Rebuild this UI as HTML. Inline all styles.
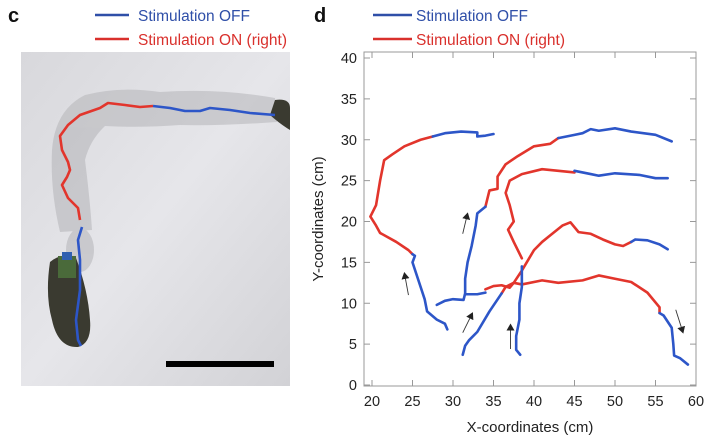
<!DOCTYPE html>
<html><head><meta charset="utf-8">
<style>
html,body{margin:0;padding:0;background:#fff;}
svg{display:block;font-family:"Liberation Sans",Arial,sans-serif;}
</style></head>
<body>
<svg width="728" height="436" viewBox="0 0 728 436" xmlns="http://www.w3.org/2000/svg">
  <defs>
    <linearGradient id="bg" x1="0" y1="0" x2="1" y2="1">
      <stop offset="0" stop-color="#d8d8dc"/>
      <stop offset="0.5" stop-color="#e6e6ea"/>
      <stop offset="1" stop-color="#d2d2d6"/>
    </linearGradient>
    <marker id="ah" markerWidth="8" markerHeight="8" refX="6" refY="4" orient="auto" markerUnits="userSpaceOnUse">
      <path d="M0,0 L7,4 L0,8 Z" fill="#222"/>
    </marker>
  </defs>

  <g>
    <text x="8" y="22" font-size="20" font-weight="bold" fill="#111">c</text>
    <g>
      <line x1="95" y1="15" x2="129" y2="15" stroke="#2f4fa8" stroke-width="2.5"/>
      <text x="138" y="21" font-size="15.5" fill="#2f4fa8">Stimulation OFF</text>
      <line x1="95" y1="39" x2="129" y2="39" stroke="#d9302c" stroke-width="2.5"/>
      <text x="138" y="45" font-size="15.5" fill="#d9302c">Stimulation ON (right)</text>
    </g>
    <rect x="21" y="52" width="269" height="334" fill="url(#bg)"/>
    <g fill="#b4b4b8" opacity="0.55">
      <path d="M85,95 Q120,86 160,92 Q220,88 275,98 L277,122 Q220,126 180,125 Q140,128 105,126 Q90,140 85,160 Q90,200 92,230 L60,232 Q50,190 52,150 Q55,110 85,95 Z"/>
      <ellipse cx="80" cy="250" rx="14" ry="22"/>
    </g>
    <g>
      <path d="M50,262 Q62,252 76,258 Q88,290 90,320 Q92,343 78,347 Q58,348 52,320 Q45,295 50,262 Z" fill="#3a3a30"/>
      <rect x="58" y="256" width="18" height="22" fill="#4a6a3a"/>
      <rect x="62" y="252" width="10" height="8" fill="#2f5fb0"/>
      <path d="M275,100 Q290,98 290,108 L290,130 Q280,124 270,115 Z" fill="#3a3a30"/>
    </g>
    <polyline fill="none" stroke="#e2352c" stroke-width="2.6" stroke-linejoin="round"
      points="153,106 140,107 125,105 108,103 100,108 80,115 68,125 60,136 62,150 68,162 70,170 67,177 62,185 68,198 78,208 80,220"/>
    <polyline fill="none" stroke="#2d56c8" stroke-width="2.6" stroke-linejoin="round"
      points="153,106 170,108 185,111 200,111 210,108 230,110 250,113 275,115"/>
    <polyline fill="none" stroke="#2d56c8" stroke-width="2.6" stroke-linejoin="round"
      points="82,227 78,240 80,260 80,290 76,320 78,340 81,346"/>
    <rect x="166" y="361" width="108" height="6" fill="#000"/>
  </g>

  <g>
    <text x="314" y="22" font-size="20" font-weight="bold" fill="#111">d</text>
    <g>
      <line x1="373" y1="15" x2="412" y2="15" stroke="#2f4fa8" stroke-width="2.5"/>
      <text x="416" y="21" font-size="15.5" fill="#2f4fa8">Stimulation OFF</text>
      <line x1="373" y1="39" x2="412" y2="39" stroke="#d9302c" stroke-width="2.5"/>
      <text x="416" y="45" font-size="15.5" fill="#d9302c">Stimulation ON (right)</text>
    </g>
    <rect x="364" y="52" width="332" height="334" fill="none" stroke="#999" stroke-width="1"/>
    <g id="axes"></g>
    <g id="marks"></g>
    <text x="530" y="432" font-size="15" text-anchor="middle" fill="#222">X-coordinates (cm)</text>
    <text transform="translate(323,219) rotate(-90)" font-size="15" text-anchor="middle" fill="#222">Y-coordinates (cm)</text>
  </g>
</svg>
<script>
const xTicks = [20,25,30,35,40,45,50,55,60];
const yTicks = [0,5,10,15,20,25,30,35,40];
const offSegments = [
  [[27.5,30.4],[29,30.8],[31,31],[33,30.9],[33,30.4],[34,30.5],[35,30.7]],
  [[25,16],[25.3,15.8],[25,15],[25.5,13.5],[26,12],[26.5,10.5],[26.8,9],[28,8],[29,7.5],[29.3,6.8]],
  [[28,9.8],[29,10.3],[30,10.5],[31.3,10.4],[31.5,11.2],[31.5,13],[31.8,15],[32.3,17],[32.8,19.5],[33,21],[34,21.8]],
  [[31.5,11.1],[33,11.1],[34,11.3]],
  [[43,30.2],[45,30.6],[46,30.8],[47,31.3],[48,31.1],[50,31.4],[52,31],[55,30.6],[57,29.8]],
  [[55.5,8.8],[56,8.5],[57,7],[57.2,5],[57.3,3.6],[58,3.3],[59,2.5]],
  [[31.2,3.7],[31.5,4.8],[32,5.5],[33,6.5],[34.5,9],[36,11.2]],
  [[52,17.5],[52.5,17.8],[54,17.7],[55.5,17.2],[56.5,16.6]],
  [[38.3,3.7],[37.8,4.3],[37.8,6],[38.2,8],[38.2,10],[38.5,12],[38.5,14.5]],
  [[45,26.2],[47,25.8],[48,25.6],[50,25.9],[53,25.7],[55,25.3],[56.5,25.3]]
];
const onSegments = [
  [[27.5,30.4],[26,30],[24,29.2],[22.5,28.2],[21.5,27.5],[21,25],[20.8,23.8],[20.5,22],[19.8,20.6],[20.5,19.5],[21,18.6],[23,17.5],[24.5,16.5],[25,16]],
  [[34,21.8],[34.5,23.8],[35.5,24],[35.5,25.5],[36.5,27],[38,28],[40,29.2],[42,29.5],[43,30.2]],
  [[34,11.7],[35,12.1],[36,12.2],[37,11.9],[37.5,12.5],[38.5,12.3],[41,12.8],[43,12.5],[46,12.8],[48,13.4],[50,13],[52,12.6],[54,11.3],[55.5,9.5],[55.5,8.8]],
  [[36,11.2],[36.5,12],[37.5,12.5],[38.5,14],[40,16.5],[41,17.5],[42,18.3],[43.5,19.5],[44.5,19.9],[45.5,18.7],[47,18.5],[48.5,17.8],[50,17.2],[51,17],[52,17.5]],
  [[38.5,15.5],[37.5,17.5],[36.8,19],[37.5,20],[37,22],[36.5,23.5],[37,25],[38.5,25.8],[41,26.4],[43,26.2],[45,26]]
];
const arrows = [
  [[24.5,11],[24,13.7]],
  [[31.2,18.5],[31.8,21]],
  [[31.2,6.4],[32.4,8.8]],
  [[37.1,4.4],[37.1,7.4]],
  [[57.5,9.2],[58.4,6.4]]
];
const NS = "http://www.w3.org/2000/svg";
function sx(v){ return 372 + (v-20)*(696-372)/40; }
function sy(v){ return 385 - v*(385-58)/40; }
const axes = document.getElementById('axes');
const marks = document.getElementById('marks');
xTicks.forEach(t=>{
  const l = document.createElementNS(NS,'line');
  l.setAttribute('x1',sx(t)); l.setAttribute('x2',sx(t));
  l.setAttribute('y1',386); l.setAttribute('y2',380);
  l.setAttribute('stroke','#999');
  
  
  axes.appendChild(l);
  const l2 = l.cloneNode();
  l2.setAttribute('y1',52); l2.setAttribute('y2',58);
  
  
  axes.appendChild(l2);
  const tx = document.createElementNS(NS,'text');
  tx.setAttribute('x',sx(t)); tx.setAttribute('y',406);
  tx.setAttribute('text-anchor','middle'); tx.setAttribute('font-size','14.5'); tx.setAttribute('fill','#222');
  tx.textContent = t;
  
  
  axes.appendChild(tx);
});
yTicks.forEach(t=>{
  const l = document.createElementNS(NS,'line');
  l.setAttribute('x1',364); l.setAttribute('x2',370);
  l.setAttribute('y1',sy(t)); l.setAttribute('y2',sy(t));
  l.setAttribute('stroke','#999');
  
  
  axes.appendChild(l);
  const l2 = l.cloneNode();
  l2.setAttribute('x1',690); l2.setAttribute('x2',696);
  
  
  axes.appendChild(l2);
  const tx = document.createElementNS(NS,'text');
  tx.setAttribute('x',357); tx.setAttribute('y',sy(t)+5);
  tx.setAttribute('text-anchor','end'); tx.setAttribute('font-size','14.5'); tx.setAttribute('fill','#222');
  tx.textContent = t;
  
  
  axes.appendChild(tx);
});
function drawSeg(seg,color,name){
  const p = document.createElementNS(NS,'polyline');
  p.setAttribute('points', seg.map(d=>sx(d[0])+','+sy(d[1])).join(' '));
  p.setAttribute('fill','none'); p.setAttribute('stroke',color);
  p.setAttribute('stroke-width','2.6'); p.setAttribute('stroke-linejoin','round'); p.setAttribute('stroke-linecap','round');
  
  
  marks.appendChild(p);
}
onSegments.forEach(s=>drawSeg(s,'#e2352c','trajectory-on'));
offSegments.forEach(s=>drawSeg(s,'#2d56c8','trajectory-off'));
arrows.forEach(a=>{
  const l = document.createElementNS(NS,'line');
  l.setAttribute('x1',sx(a[0][0])); l.setAttribute('y1',sy(a[0][1]));
  l.setAttribute('x2',sx(a[1][0])); l.setAttribute('y2',sy(a[1][1]));
  l.setAttribute('stroke','#333'); l.setAttribute('stroke-width','0.9');
  l.setAttribute('marker-end','url(#ah)');
  
  
  marks.appendChild(l);
});
</script>
</body></html>
